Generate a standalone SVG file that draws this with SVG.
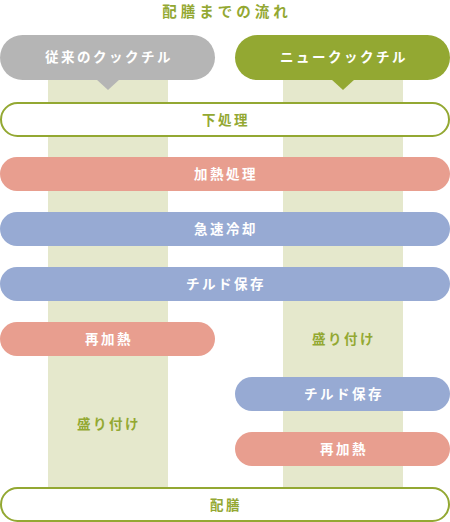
<svg xmlns="http://www.w3.org/2000/svg" width="450" height="522" viewBox="0 0 450 522">
<style>
text{font-family:"Noto Sans CJK JP","Noto Sans",sans-serif;font-weight:bold;text-anchor:middle}
.t{font-size:13.5px;letter-spacing:2.5px;fill:#fff}
.g{font-size:13.5px;letter-spacing:2.5px;fill:#93a832}
.band{fill:#e5e8cc}
.red{fill:#e89e8f}
.blue{fill:#97aad3}
.out{fill:#fff;stroke:#93a832;stroke-width:2}
</style>
<rect width="450" height="522" fill="#fff"/>
<text x="227" y="16.5" style="font-size:14.5px;letter-spacing:4px;fill:#93a832">配膳までの流れ</text>
<g id="bands">
<rect class="band" x="48" y="60" width="120" height="440"/>
<rect class="band" x="283" y="60" width="120" height="440"/>
</g>
<g id="connectors">
<polygon points="96,79 120,79 108,90" fill="#b5b5b5"/>
<polygon points="331,79 355,79 343,90" fill="#93a832"/>
</g>
<g id="conventional">
<rect x="0" y="35" width="215" height="45" rx="22.5" fill="#b5b5b5"/>
<text class="t" x="109" y="62">従来のクックチル</text>
</g>
<g id="new">
<rect x="235" y="35" width="215" height="45" rx="22.5" fill="#93a832"/>
<text class="t" x="344" y="62">ニュークックチル</text>
</g>
<g id="shita">
<rect class="out" x="1" y="103" width="448" height="33" rx="16.5"/>
<text class="g" x="226" y="124.5">下処理</text>
</g>
<g id="kanetsu">
<rect class="red" x="0" y="157" width="450" height="34" rx="17"/>
<text class="t" x="226" y="179">加熱処理</text>
</g>
<g id="kyusoku">
<rect class="blue" x="0" y="212" width="450" height="34" rx="17"/>
<text class="t" x="226" y="234">急速冷却</text>
</g>
<g id="chilled">
<rect class="blue" x="0" y="267" width="450" height="34" rx="17"/>
<text class="t" x="226" y="289">チルド保存</text>
</g>
<g id="saikanetsu-left">
<rect class="red" x="0" y="322" width="215" height="34" rx="17"/>
<text class="t" x="109" y="344">再加熱</text>
</g>
<g id="moritsuke-right">
<text class="g" x="344" y="344">盛り付け</text>
</g>
<g id="moritsuke-left">
<text class="g" x="109" y="429">盛り付け</text>
</g>
<g id="chilled-right">
<rect class="blue" x="235" y="377" width="215" height="34" rx="17"/>
<text class="t" x="344" y="399">チルド保存</text>
</g>
<g id="saikanetsu-right">
<rect class="red" x="235" y="432" width="215" height="34" rx="17"/>
<text class="t" x="344" y="454">再加熱</text>
</g>
<g id="haizen">
<rect class="out" x="1" y="488" width="448" height="33" rx="16.5"/>
<text class="g" x="226" y="509.5">配膳</text>
</g>
</svg>
